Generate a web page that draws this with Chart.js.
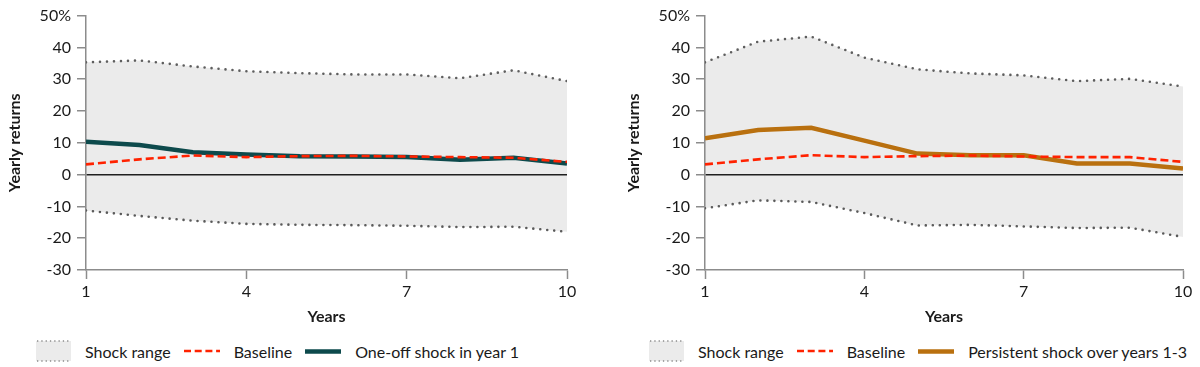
<!DOCTYPE html>
<html>
<head>
<meta charset="utf-8">
<script src="https://cdn.jsdelivr.net/npm/chart.js@4.4.1/dist/chart.umd.min.js"></script>
<style>
  html, body { margin: 0; padding: 0; background: #fff; }
  body { width: 1200px; height: 367px; position: relative; overflow: hidden; font-family: Lato, sans-serif; color: #1a1a1a; }
  .panel { position: absolute; top: 0; height: 367px; }
  .panel canvas { display: block; }
  .legend { position: absolute; top: 340px; height: 22px; display: flex; align-items: center; font-size: 16px; white-space: nowrap; }
  .legend svg { display: block; }
  .legend .sw { margin-right: 14px; }
  .legend .lb { margin-right: 13px; }
</style>
</head>
<body>
<div class="panel" style="left:0;width:600px"><canvas id="left" width="600" height="330"></canvas>
  <div class="legend" id="legLeft" style="left:36px"></div></div>
<div class="panel" style="left:619px;width:581px"><canvas id="right" width="581" height="330"></canvas>
  <div class="legend" id="legRight" style="left:30px"></div></div>
<script>
const years = [1, 2, 3, 4, 5, 6, 7, 8, 9, 10];
const xTicks = [1, 4, 7, 10];

// one-off shock panel
const leftUpper = [35.3, 35.9, 34.0, 32.5, 31.9, 31.5, 31.5, 30.3, 32.8, 29.4];
const leftLower = [-11.3, -13.0, -14.5, -15.5, -15.8, -15.9, -16.1, -16.5, -16.4, -18.0];
const leftBaseline = [3.2, 4.8, 6.0, 5.5, 5.8, 5.9, 5.7, 5.5, 5.3, 4.0];
const leftShock = [10.3, 9.3, 7.0, 6.3, 5.8, 5.7, 5.5, 4.7, 5.3, 3.5];

// persistent shock panel
const rightUpper = [35.3, 41.8, 43.4, 36.8, 33.1, 31.8, 31.2, 29.4, 30.1, 27.7];
const rightLower = [-10.6, -8.1, -8.6, -12.1, -16.0, -15.8, -16.3, -16.8, -16.7, -19.6];
const rightBaseline = [3.2, 4.8, 6.1, 5.5, 5.8, 6.0, 5.7, 5.5, 5.5, 4.0];
const rightShock = [11.4, 14.0, 14.7, 10.7, 6.6, 6.1, 6.1, 3.5, 3.5, 1.9];

const axisGrey = '#8c8c8c';
const dotGrey = '#5e5e5e';
const red = '#ff2200';
const teal = '#0d4a4c';
const orange = '#b9700f';

function makeChart(id, upper, lower, baseline, shock, shockLabel, shockColor) {
    return new Chart(document.getElementById(id), {
        type: 'line',
        data: {
            labels: years,
            datasets: [
                {
                    label: 'Baseline',
                    data: baseline,
                    borderColor: red,
                    borderWidth: 2.6,
                    borderDash: [8, 4],
                    pointRadius: 0,
                    fill: false,
                    order: 0
                },
                {
                    label: shockLabel,
                    data: shock,
                    borderColor: shockColor,
                    borderWidth: 4.5,
                    pointRadius: 0,
                    fill: false,
                    order: 1
                },
                {
                    label: 'Shock range',
                    data: upper,
                    borderColor: dotGrey,
                    borderWidth: 2.6,
                    borderDash: [0, 7],
                    borderCapStyle: 'round',
                    backgroundColor: 'rgba(0,0,0,0.08)',
                    pointRadius: 0,
                    fill: '+1',
                    order: 2
                },
                {
                    label: 'Shock range low',
                    data: lower,
                    borderColor: dotGrey,
                    borderWidth: 2.6,
                    borderDash: [0, 7],
                    borderCapStyle: 'round',
                    pointRadius: 0,
                    fill: false,
                    order: 3
                }
            ]
        },
        options: {
            responsive: false,
            animation: false,
            layout: { padding: { top: 14, right: id === 'left' ? 33 : 17, bottom: 0, left: 0 } },
            plugins: { legend: { display: false }, tooltip: { enabled: false } },
            scales: {
                x: {
                    type: 'linear',
                    min: 1,
                    max: 10,
                    afterFit: s => { s.height = 60; },
                    afterBuildTicks: s => { s.ticks = xTicks.map(v => ({ value: v })); },
                    border: { display: true, color: axisGrey, width: 1.5 },
                    grid: { drawOnChartArea: false, drawTicks: true, tickLength: 9, tickColor: axisGrey, tickWidth: 1.5 },
                    ticks: { color: '#1a1a1a', padding: 3, font: { family: 'Lato', size: 16 }, maxRotation: 0 },
                    title: { display: true, text: 'Years', color: '#1a1a1a', padding: { top: 0, bottom: 3.5 }, font: { family: 'Lato', size: 16, weight: 'bold' } }
                },
                y: {
                    min: -30,
                    max: 50,
                    afterFit: s => { s.width = 86; },
                    border: { display: true, color: axisGrey, width: 1.5 },
                    grid: {
                        drawOnChartArea: true,
                        drawTicks: true,
                        tickLength: 9,
                        tickColor: axisGrey,
                        tickWidth: 1.5,
                        color: c => (c.tick && c.tick.value === 0) ? '#222' : 'rgba(0,0,0,0)',
                        lineWidth: 1.5
                    },
                    ticks: {
                        stepSize: 10,
                        padding: 6,
                        color: '#1a1a1a',
                        font: { family: 'Lato', size: 16 },
                        callback: v => v === 50 ? '50%' : v
                    },
                    title: { display: true, text: 'Yearly returns', color: '#1a1a1a', padding: { top: 5, bottom: 0 }, font: { family: 'Lato', size: 16, weight: 'bold' } }
                }
            }
        }
    });
}

function buildLegend(elId, shockLabel, shockColor) {
    const box = '<svg width="35" height="22"><rect x="0" y="1" width="35" height="20" fill="#ebebeb"/>' +
        '<line x1="1" y1="1" x2="35" y2="1" stroke="#8a8a8a" stroke-width="1.3" stroke-dasharray="1.3 3"/>' +
        '<line x1="1" y1="21" x2="35" y2="21" stroke="#8a8a8a" stroke-width="1.3" stroke-dasharray="1.3 3"/></svg>';
    const dash = '<svg width="36" height="4"><line x1="0" y1="2" x2="36" y2="2" stroke="' + red + '" stroke-width="2.6" stroke-dasharray="7 3.7"/></svg>';
    const solid = '<svg width="36" height="5"><line x1="0" y1="2.5" x2="36" y2="2.5" stroke="' + shockColor + '" stroke-width="4.5"/></svg>';
    document.getElementById(elId).innerHTML =
        '<span class="sw">' + box + '</span><span class="lb">Shock range</span>' +
        '<span class="sw">' + dash + '</span><span class="lb">Baseline</span>' +
        '<span class="sw">' + solid + '</span><span class="lb">' + shockLabel + '</span>';
}

makeChart('left', leftUpper, leftLower, leftBaseline, leftShock, 'One-off shock in year 1', teal);
makeChart('right', rightUpper, rightLower, rightBaseline, rightShock, 'Persistent shock over years 1-3', orange);
buildLegend('legLeft', 'One-off shock in year 1', teal);
buildLegend('legRight', 'Persistent shock over years 1-3', orange);
</script>
</body>
</html>
